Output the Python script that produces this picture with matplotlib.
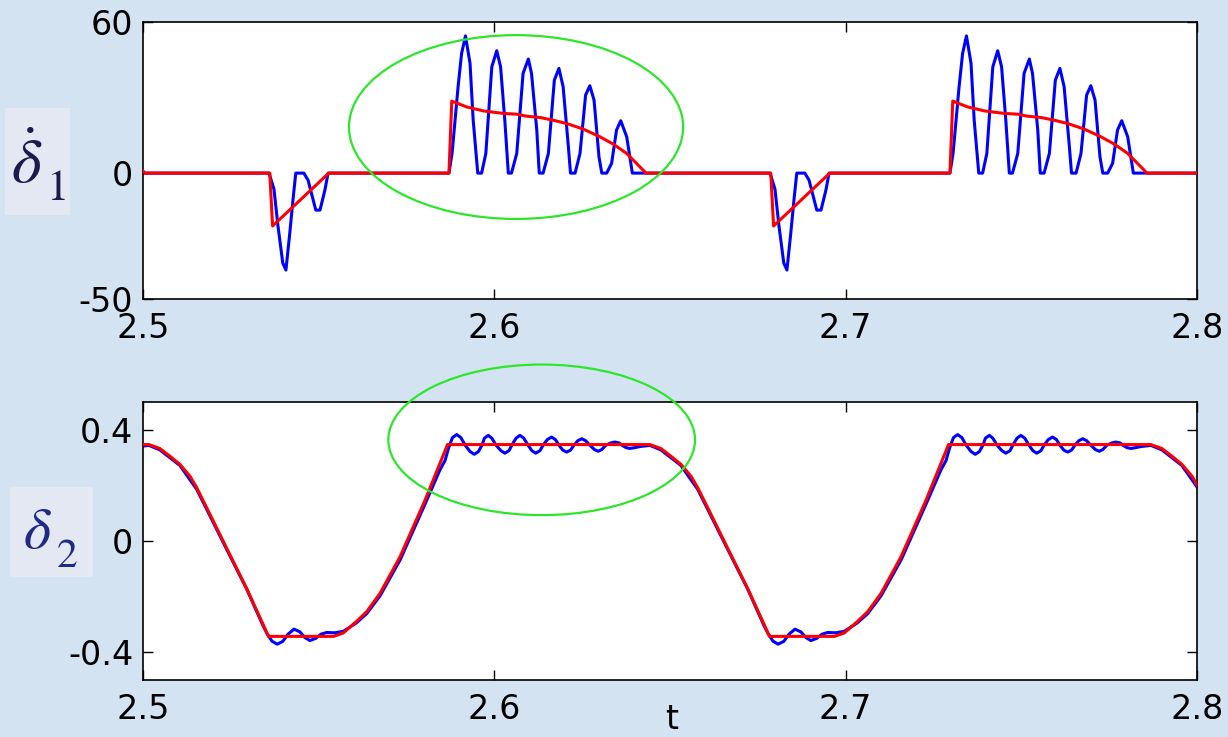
import numpy as np
import matplotlib
matplotlib.use('Agg')
import matplotlib.pyplot as plt
from matplotlib.patches import Ellipse, Rectangle

plt.rcParams['font.family'] = ['DejaVu Sans']
plt.rcParams['mathtext.fontset'] = 'stix'
plt.rcParams['axes.unicode_minus'] = False

# repeat interval of the motion (s)
period = 0.1426

# --- top panel: delta1 dot, one cycle ---
d1_blue_t = [2.5359, 2.5373, 2.5384, 2.5398, 2.5407, 2.5418, 2.5427, 2.5435,
             2.5458, 2.5470, 2.5481, 2.5492, 2.5504, 2.5518, 2.5527,
             2.5871, 2.5880, 2.5897, 2.5907, 2.5918, 2.5931, 2.5940, 2.5953,
             2.5964, 2.5976, 2.5993, 2.6007, 2.6018, 2.6030, 2.6040,
             2.6049, 2.6064, 2.6082, 2.6097, 2.6106, 2.6121, 2.6128,
             2.6139, 2.6154, 2.6171, 2.6184, 2.6196, 2.6211, 2.6217,
             2.6230, 2.6244, 2.6260, 2.6272, 2.6284, 2.6298, 2.6306,
             2.6320, 2.6334, 2.6348, 2.6360, 2.6377, 2.6393]
d1_blue_v = [0, -6.4, -20.6, -35.7, -38.5, -23.8, -10.7, 0,
             0, -2.8, -8.7, -14.7, -14.7, -6.7, 0,
             0, 8, 34.3, 47.5, 54.5, 43.6, 21.0, 0,
             0, 7.8, 42.2, 48.6, 42.2, 21.0, 0,
             0, 7.8, 39.6, 45.3, 39.6, 17.1, 0,
             0, 7.8, 36.9, 41.6, 34.3, 10.4, 0,
             0, 7.8, 31.0, 34.7, 29.0, 6.5, 0,
             0, 3.9, 17.1, 20.8, 14.4, 0]
d1_red_t = [2.5361, 2.5369, 2.5529, 2.5871, 2.5879, 2.5921, 2.5969, 2.6026,
            2.6064, 2.6092, 2.6130, 2.6168, 2.6206, 2.6253, 2.6301, 2.6339,
            2.6377, 2.6432]
d1_red_v = [0, -21, 0, 0, 28.6, 26.3, 24.7, 23.7,
            23.4, 22.6, 22.1, 21.0, 19.7, 17.5, 14.4, 11.5,
            7.8, 0]

# --- bottom panel: delta2, one cycle ---
d2_red_t = [2.5017, 2.5048, 2.5077, 2.5105, 2.5134, 2.5153, 2.5181, 2.5238,
            2.5295, 2.5342, 2.5357, 2.5542, 2.5570, 2.5608, 2.5637, 2.5675,
            2.5732, 2.5803, 2.5867]
d2_red_v = [0.347, 0.333, 0.305, 0.276, 0.233, 0.192, 0.121, -0.025,
            -0.170, -0.300, -0.343, -0.343, -0.331, -0.289, -0.254, -0.188,
            -0.056, 0.147, 0.347]
d2_blue_t = [2.5017, 2.5048, 2.5105, 2.5153, 2.5181, 2.5238, 2.5295, 2.5342,
             2.5352, 2.5367, 2.5382, 2.5398, 2.5413, 2.5430, 2.5447, 2.5461,
             2.5475, 2.5492, 2.5507, 2.5523, 2.5546, 2.5570, 2.5608, 2.5637,
             2.5675, 2.5732, 2.5803, 2.5845, 2.5860, 2.5870, 2.5881, 2.5893,
             2.5905, 2.5917, 2.5931, 2.5943, 2.5955, 2.5965, 2.5972, 2.5983,
             2.5993, 2.6005, 2.6019, 2.6030, 2.6042, 2.6050, 2.6062, 2.6073,
             2.6084, 2.6096, 2.6107, 2.6118, 2.6130, 2.6139, 2.6151, 2.6163,
             2.6174, 2.6184, 2.6195, 2.6206, 2.6217, 2.6227, 2.6238, 2.6249,
             2.6260, 2.6272, 2.6285, 2.6296, 2.6306, 2.6318, 2.6332, 2.6343,
             2.6355, 2.6363, 2.6375, 2.6386, 2.6400, 2.6415]
d2_blue_v = [0.344, 0.328, 0.272, 0.186, 0.115, -0.029, -0.172, -0.305,
             -0.330, -0.360, -0.371, -0.361, -0.335, -0.317, -0.327, -0.347,
             -0.358, -0.350, -0.335, -0.329, -0.330, -0.325, -0.294, -0.261,
             -0.197, -0.068, 0.133, 0.255, 0.290, 0.335, 0.372, 0.383,
             0.372, 0.345, 0.322, 0.312, 0.322, 0.345, 0.370, 0.380,
             0.370, 0.345, 0.325, 0.316, 0.325, 0.345, 0.370, 0.380,
             0.370, 0.345, 0.325, 0.316, 0.325, 0.345, 0.365, 0.374,
             0.365, 0.345, 0.327, 0.320, 0.327, 0.345, 0.361, 0.368,
             0.361, 0.345, 0.329, 0.323, 0.329, 0.345, 0.353, 0.356,
             0.353, 0.345, 0.336, 0.333, 0.336, 0.340]

x_ticks = [2.5, 2.6, 2.7, 2.8]
x_labels = ['2.5', '2.6', '2.7', '2.8']
d1_ticks = [-50, 0, 60]
d2_ticks = [-0.4, 0, 0.4]
d2_labels = ['-0.4', '0', '0.4']


def repeat(t, v, ks, end=None):
    tt = np.concatenate([np.asarray(t) + k * period for k in ks])
    vv = np.concatenate([np.asarray(v, dtype=float) for k in ks])
    if end is not None:
        tt = np.append(tt, end[0])
        vv = np.append(vv, end[1])
    return tt, vv


c_blue = '#0000ff'
c_red = '#ff0000'
c_green = '#2ce62c'
W, H = 1228, 737

fig = plt.figure(figsize=(12.28, 7.37), dpi=100)
fig.set_facecolor('#d4e3f2')

ax1 = fig.add_axes([0.1164, 0.5943, 0.8583, 0.3758])
ax2 = fig.add_axes([0.1164, 0.0773, 0.8583, 0.3772])

bt, bv = repeat(d1_blue_t, d1_blue_v, [-1, 0, 1], end=(2.9, 0))
rt, rv = repeat(d1_red_t, d1_red_v, [-1, 0, 1], end=(2.9, 0))
ax1.plot(bt, bv, color=c_blue, lw=2.2, zorder=2)
ax1.plot(rt, rv, color=c_red, lw=2.2, zorder=3)
ax1.set_ylim(-50, 60)
ax1.set_yticks(d1_ticks)
ax1.add_patch(Ellipse((2.6062, 18.3), 0.0951, 73.0, fill=False,
                      edgecolor=c_green, lw=1.6, clip_on=False, zorder=4))

bt, bv = repeat(d2_blue_t, d2_blue_v, [-1, 0, 1, 2])
rt, rv = repeat(d2_red_t, d2_red_v, [-1, 0, 1, 2])
ax2.plot(bt, bv, color=c_blue, lw=2.2, zorder=2)
ax2.plot(rt, rv, color=c_red, lw=2.2, zorder=3)
ax2.set_ylim(-0.5, 0.5)
ax2.set_yticks(d2_ticks)
ax2.set_yticklabels(d2_labels)
ax2.add_patch(Ellipse((2.6135, 0.364), 0.0873, 0.5417, fill=False,
                      edgecolor=c_green, lw=1.6, clip_on=False, zorder=4))

for ax in (ax1, ax2):
    ax.set_facecolor('white')
    ax.set_xlim(2.5, 2.8)
    ax.set_xticks(x_ticks)
    ax.set_xticklabels(x_labels)
    ax.tick_params(direction='in', top=True, right=True, length=7, width=1,
                   labelsize=24, colors='black')
    ax.tick_params(axis='x', pad=9.5)
    ax.tick_params(axis='y', pad=7)
    for s in ax.spines.values():
        s.set_linewidth(1.2)
        s.set_color('black')

fig.text(672 / W, 0.001, 't', fontsize=24, ha='center', va='bottom')

# y-axis symbols, each on its own lighter patch
fig.add_artist(Rectangle((5 / W, 1 - 215 / H), 65 / W, 107 / H,
                         transform=fig.transFigure, facecolor='#e3e8f3',
                         edgecolor='none', zorder=0))
fig.add_artist(Rectangle((10 / W, 1 - 577 / H), 83 / W, 90 / H,
                         transform=fig.transFigure, facecolor='#e3e8f3',
                         edgecolor='none', zorder=0))
fig.text(11 / W, 1 - 183 / H, r'$\dot{\delta}$', fontsize=46,
         color='#1b1b4d', ha='left', va='baseline')
fig.text(46 / W, 1 - 200 / H, '1', fontsize=32, family='STIXGeneral',
         color='#1b1b4d', ha='left', va='baseline')
fig.text(23 / W, 1 - 548 / H, r'$\delta$', fontsize=42,
         color='#1f2a85', ha='left', va='baseline')
fig.text(57 / W, 1 - 567 / H, '2', fontsize=30, family='STIXGeneral',
         color='#1f2a85', ha='left', va='baseline')

fig.savefig('out.png', dpi=100, facecolor=fig.get_facecolor())
